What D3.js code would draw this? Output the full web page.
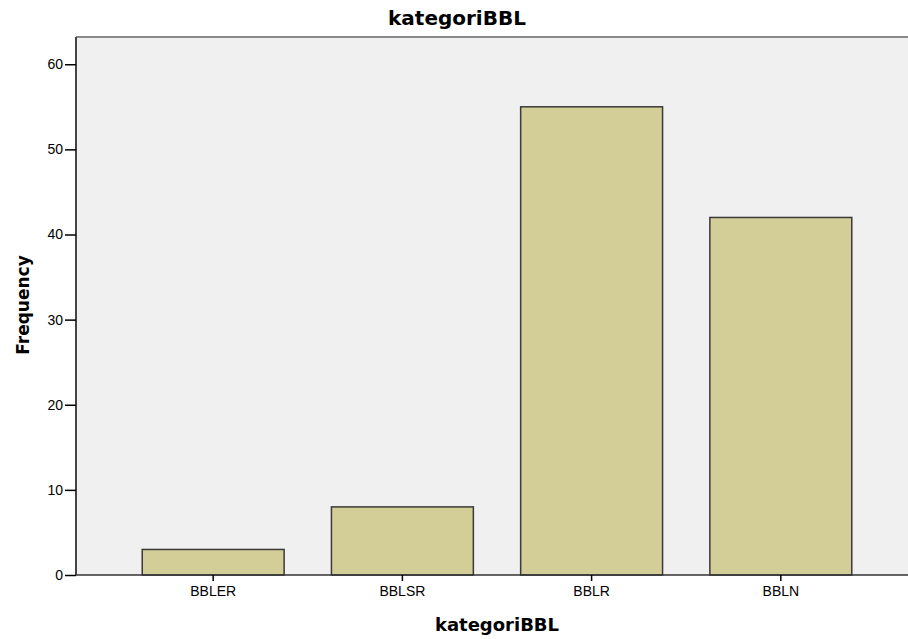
<!DOCTYPE html>
<html>
<head>
<meta charset="utf-8">
<script src="https://cdn.jsdelivr.net/npm/d3@7"></script>
<style>
  body { margin: 0; background: #fff; }
  text { fill: #000; }
</style>
</head>
<body>
<svg id="chart" width="908" height="639"></svg>
<script>
var categories = ['BBLER', 'BBLSR', 'BBLR', 'BBLN'];
var counts = [3, 8, 55, 42];
var yTicks = [0, 10, 20, 30, 40, 50, 60];

var svg = d3.select('#chart');
var plotLeft = 76, plotTop = 37, plotBottom = 575;

var x = d3.scaleBand()
  .domain(categories)
  .range([plotLeft, 918])
  .paddingInner(0.25)
  .paddingOuter(0.35);

var y = d3.scaleLinear()
  .domain([0, 63.2])
  .range([plotBottom, plotTop]);

// plot background
svg.append('rect')
  .attr('x', plotLeft).attr('y', plotTop)
  .attr('width', 908 - plotLeft).attr('height', plotBottom - plotTop)
  .attr('fill', '#f0f0f0');

svg.append('line')
  .attr('x1', plotLeft).attr('x2', 908)
  .attr('y1', plotTop).attr('y2', plotTop)
  .attr('stroke', '#8a8a8a').attr('stroke-width', 2);

// bars
svg.selectAll('rect.bar')
  .data(counts)
  .enter()
  .append('rect')
  .attr('class', 'bar')
  .attr('x', function(d, i) { return x(categories[i]); })
  .attr('y', function(d) { return y(d); })
  .attr('width', x.bandwidth())
  .attr('height', function(d) { return plotBottom - y(d); })
  .attr('fill', '#d3ce98')
  .attr('stroke', '#3a3a3a')
  .attr('stroke-width', 1.5);

// y axis
var yAxis = svg.append('g')
  .attr('transform', 'translate(' + plotLeft + ',0)')
  .call(d3.axisLeft(y).tickValues(yTicks).tickSize(11).tickPadding(2).tickSizeOuter(0));
yAxis.select('.domain').attr('stroke', '#444').attr('stroke-width', 2)
  .attr('d', 'M0,' + plotTop + 'V' + plotBottom);
yAxis.selectAll('.tick line').attr('stroke', '#000').attr('stroke-width', 1.5);
yAxis.selectAll('.tick text')
  .style('font-family', 'Liberation Sans, Arial, sans-serif')
  .style('font-size', '14px')
  .attr('fill', '#000');

// x axis
var xAxis = svg.append('g')
  .attr('transform', 'translate(0,' + plotBottom + ')')
  .call(d3.axisBottom(x).tickSize(6).tickPadding(5).tickSizeOuter(0));
xAxis.select('.domain').attr('stroke', '#333').attr('stroke-width', 1.5)
  .attr('d', 'M' + plotLeft + ',0H908');
xAxis.selectAll('.tick line').attr('stroke', '#000').attr('stroke-width', 1.5);
xAxis.selectAll('.tick text')
  .style('font-family', 'Liberation Sans, Arial, sans-serif')
  .style('font-size', '14px')
  .attr('fill', '#000');

// titles
svg.append('text')
  .attr('x', 457).attr('y', 25)
  .attr('text-anchor', 'middle')
  .style('font-family', 'DejaVu Sans, sans-serif')
  .style('font-weight', 'bold')
  .style('font-size', '20px')
  .text('kategoriBBL');

svg.append('text')
  .attr('x', 497).attr('y', 631)
  .attr('text-anchor', 'middle')
  .style('font-family', 'DejaVu Sans, sans-serif')
  .style('font-weight', 'bold')
  .style('font-size', '18px')
  .text('kategoriBBL');

svg.append('text')
  .attr('transform', 'translate(29,305) rotate(-90)')
  .attr('text-anchor', 'middle')
  .style('font-family', 'DejaVu Sans, sans-serif')
  .style('font-weight', 'bold')
  .style('font-size', '17px')
  .text('Frequency');
</script>
</body>
</html>
